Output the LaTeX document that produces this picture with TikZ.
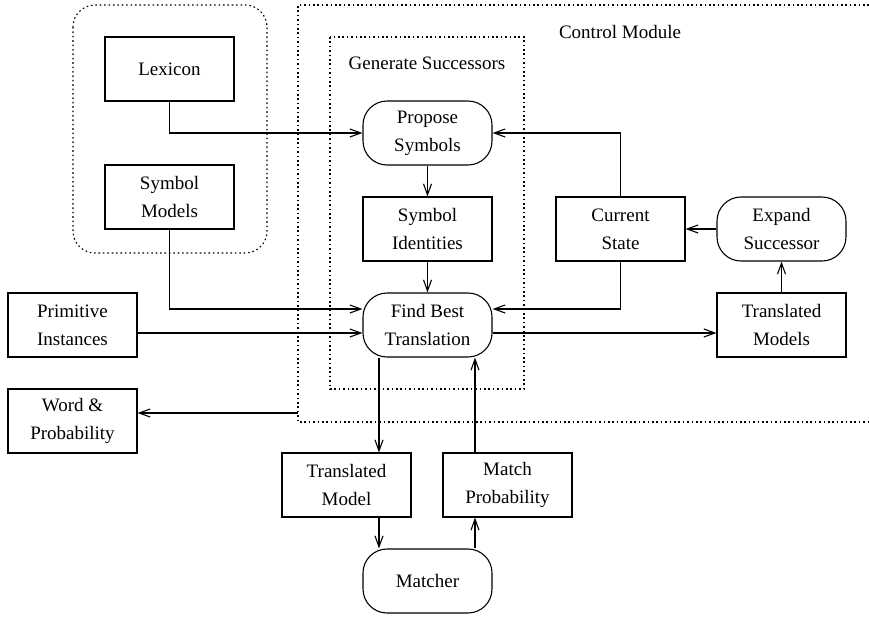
\documentclass[tikz,border=0pt]{standalone}
\usepackage{fontspec}
\setmainfont{Liberation Serif}
\usetikzlibrary{positioning,arrows.meta,calc}

\begin{document}
\begin{tikzpicture}[x=1pt, y=-1pt, font=\fontsize{19}{28}\selectfont, every node/.style={align=center}]
\tikzset{
  box/.style={draw, line width=1.1pt, minimum width=129pt, minimum height=64pt, inner sep=0pt},
  roundbox/.style={box, rounded corners=24pt},
  arr/.style={-{Straight Barb[length=11pt, width=8pt]}, line width=1.1pt},
  frame/.style={line width=1.1pt, dash pattern=on 1.6pt off 2.8pt}
}
  \useasboundingbox (0,0) rectangle (869,616);

  % dotted groups
  \draw[frame, rounded corners=22pt] (73,5) rectangle (267,253);
  \draw[frame] (869,5) -- (298,5) -- (298,422) -- (869,422);
  \draw[frame] (330,37) rectangle (524,389);
  \node (ctrllabel) at (620,32) {Control Module};
  \node (genlabel) at (427,63) {Generate Successors};

  \node[box] (lexicon) at (169.5,69) {Lexicon};
  \node[box] (symmodels) at (169.5,197) {Symbol\\Models};
  \node[box] (primitive) at (72.5,325) {Primitive\\Instances};
  \node[box] (wordprob) at (72.5,421) {Word \&\\Probability};
  \node[roundbox] (propose) at (427.5,133) {Propose\\Symbols};
  \node[box] (symident) at (427.5,229) {Symbol\\Identities};
  \node[roundbox] (findbest) at (427.5,325) {Find Best\\Translation};
  \node[box] (curstate) at (620.5,229) {Current\\State};
  \node[roundbox] (expand) at (781.5,229) {Expand\\Successor};
  \node[box] (transmodels) at (781.5,325) {Translated\\Models};
  \node[box] (transmodel) at (346.5,485) {Translated\\Model};
  \node[box] (matchprob) at (507.5,485) {Match\\Probability};
  \node[roundbox] (matcher) at (427.5,581) {Matcher};
  \coordinate (ctrlout) at (298,413);

  \draw[arr] (lexicon.south) |- (propose.west);
  \draw[arr] (symmodels.south) |- ($(findbest.west)+(0,-16)$);
  \draw[arr] ($(primitive.east)+(0,8)$) -- ($(findbest.west)+(0,8)$);
  \draw[arr] (propose.south) -- (symident.north);
  \draw[arr] (symident.south) -- (findbest.north);
  \draw[arr] (curstate.north) |- (propose.east);
  \draw[arr] (curstate.south) |- ($(findbest.east)+(0,-16)$);
  \draw[arr] (expand.west) -- (curstate.east);
  \draw[arr] (transmodels.north) -- (expand.south);
  \draw[arr] ($(findbest.east)+(0,8)$) -- ($(transmodels.west)+(0,8)$);
  \draw[arr] ([xshift=-48.5pt]findbest.south) -- ([xshift=-48.5pt]findbest.south |- transmodel.north);
  \draw[arr] ([xshift=-48.5pt]matcher.north |- transmodel.south) -- ([xshift=-48.5pt]matcher.north);
  \draw[arr] ([xshift=47.5pt]matcher.north) -- ([xshift=47.5pt]matcher.north |- matchprob.south);
  \draw[arr] ([xshift=47.5pt]findbest.south |- matchprob.north) -- ([xshift=47.5pt]findbest.south);
  \draw[arr] (ctrlout) -- (wordprob.east |- ctrlout);
\end{tikzpicture}
\end{document}
